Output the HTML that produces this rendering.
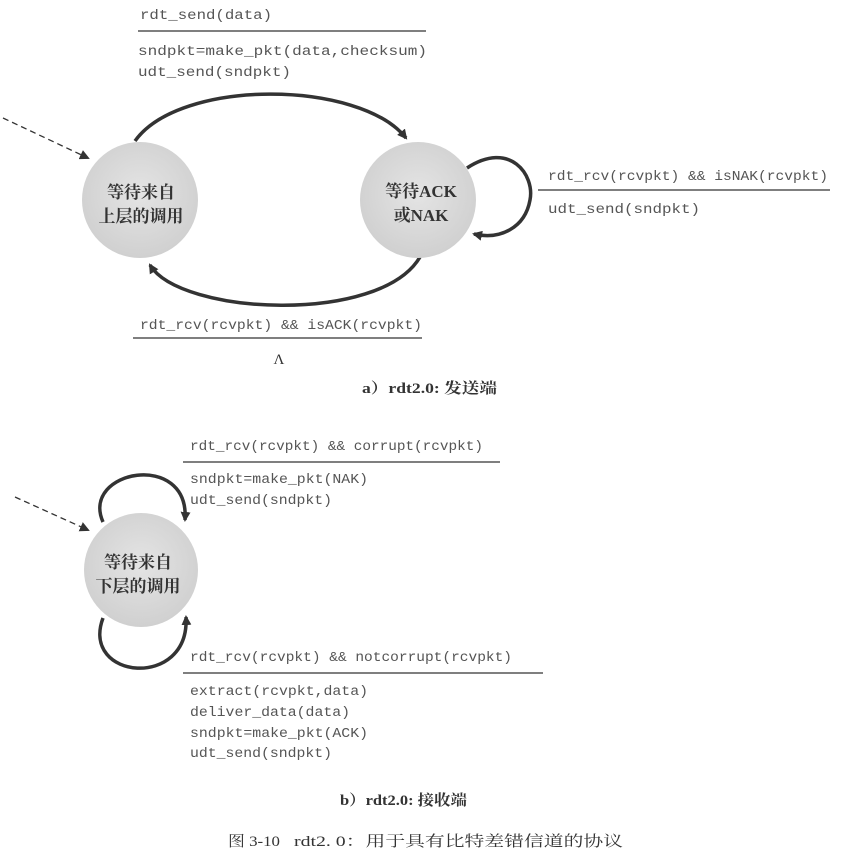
<!DOCTYPE html>
<html><head><meta charset="utf-8"><style>
html,body{margin:0;padding:0;background:#fff;}
svg{display:block;}
.m{font-family:"Liberation Mono",monospace;font-size:13.5px;fill:#555;}
.c{font-family:"Liberation Serif","Noto Serif CJK SC",serif;font-size:17px;font-weight:bold;fill:#333;}
.cap{font-family:"Liberation Serif","Noto Serif CJK SC",serif;font-size:15px;fill:#333;}
</style></head><body>
<svg width="854" height="860" viewBox="0 0 854 860" xmlns="http://www.w3.org/2000/svg">
<defs>
<marker id="a" markerWidth="10" markerHeight="10" refX="8" refY="5" orient="auto" markerUnits="userSpaceOnUse"><path d="M0,0 L10,5 L0,10 z" fill="#333"/></marker>
<radialGradient id="g" cx="50%" cy="45%" r="55%"><stop offset="0" stop-color="#e4e4e4"/><stop offset="1" stop-color="#d0d0d0"/></radialGradient>
</defs>
<g stroke="#333" fill="none">
<line x1="3" y1="118" x2="88" y2="158" stroke-width="1.3" stroke-dasharray="6,4" marker-end="url(#a)"/>
<path d="M135,141 C180,78 360,80 406,138" stroke-width="3.5" marker-end="url(#a)"/>
<path d="M420,257 C380,325 180,315 150,265" stroke-width="3.5" marker-end="url(#a)"/>
<path d="M467,168 C510,140 535,175 530,200 C525,228 500,240 474,234" stroke-width="3.5" marker-end="url(#a)"/>
<line x1="138" y1="31" x2="426" y2="31" stroke-width="1.2"/>
<line x1="538" y1="190" x2="830" y2="190" stroke-width="1.2"/>
<line x1="133" y1="338" x2="422" y2="338" stroke-width="1.2"/>
<line x1="15" y1="497" x2="88" y2="530" stroke-width="1.3" stroke-dasharray="6,4" marker-end="url(#a)"/>
<path d="M103,522 C80,470 190,450 185,520" stroke-width="3.5" marker-end="url(#a)"/>
<path d="M103,618 C80,680 190,690 186,617" stroke-width="3.5" marker-end="url(#a)"/>
<line x1="183" y1="462" x2="500" y2="462" stroke-width="1.2"/>
<line x1="183" y1="673" x2="543" y2="673" stroke-width="1.2"/>
</g>
<circle cx="140" cy="200" r="58" fill="url(#g)"/>
<circle cx="418" cy="200" r="58" fill="url(#g)"/>
<circle cx="141" cy="570" r="57" fill="url(#g)"/>
<text class="c" x="141" y="198" text-anchor="middle">等待来自</text>
<text class="c" x="141" y="222" text-anchor="middle">上层的调用</text>
<text class="c" x="421" y="197" text-anchor="middle">等待ACK</text>
<text class="c" x="421" y="221" text-anchor="middle">或NAK</text>
<text class="c" x="138" y="568" text-anchor="middle">等待来自</text>
<text class="c" x="138" y="592" text-anchor="middle">下层的调用</text>

<text class="m" x="140" y="19" textLength="132" lengthAdjust="spacingAndGlyphs">rdt_send(data)</text>
<text class="m" x="138" y="55" textLength="289" lengthAdjust="spacingAndGlyphs">sndpkt=make_pkt(data,checksum)</text>
<text class="m" x="138" y="76" textLength="153" lengthAdjust="spacingAndGlyphs">udt_send(sndpkt)</text>
<text class="m" x="548" y="180" textLength="280" lengthAdjust="spacingAndGlyphs">rdt_rcv(rcvpkt) &amp;&amp; isNAK(rcvpkt)</text>
<text class="m" x="548" y="213" textLength="152" lengthAdjust="spacingAndGlyphs">udt_send(sndpkt)</text>
<text class="m" x="140" y="329" textLength="282" lengthAdjust="spacingAndGlyphs">rdt_rcv(rcvpkt) &amp;&amp; isACK(rcvpkt)</text>
<text class="cap" x="279" y="364" text-anchor="middle">Λ</text>
<text class="cap" x="362" y="393" font-weight="bold" textLength="135" lengthAdjust="spacingAndGlyphs">a）rdt2.0: 发送端</text>

<text class="m" x="190" y="450" textLength="293" lengthAdjust="spacingAndGlyphs">rdt_rcv(rcvpkt) &amp;&amp; corrupt(rcvpkt)</text>
<text class="m" x="190" y="483" textLength="178" lengthAdjust="spacingAndGlyphs">sndpkt=make_pkt(NAK)</text>
<text class="m" x="190" y="504" textLength="142" lengthAdjust="spacingAndGlyphs">udt_send(sndpkt)</text>
<text class="m" x="190" y="661" textLength="322" lengthAdjust="spacingAndGlyphs">rdt_rcv(rcvpkt) &amp;&amp; notcorrupt(rcvpkt)</text>
<text class="m" x="190" y="695" textLength="178" lengthAdjust="spacingAndGlyphs">extract(rcvpkt,data)</text>
<text class="m" x="190" y="716" textLength="160" lengthAdjust="spacingAndGlyphs">deliver_data(data)</text>
<text class="m" x="190" y="737" textLength="178" lengthAdjust="spacingAndGlyphs">sndpkt=make_pkt(ACK)</text>
<text class="m" x="190" y="757" textLength="142" lengthAdjust="spacingAndGlyphs">udt_send(sndpkt)</text>
<text class="cap" x="340" y="805" font-weight="bold" textLength="127" lengthAdjust="spacingAndGlyphs">b）rdt2.0: 接收端</text>
<text class="cap" x="228" y="846" font-size="17" textLength="52" lengthAdjust="spacingAndGlyphs">图 3-10</text>
<text class="cap" x="294" y="846" font-size="17" textLength="329" lengthAdjust="spacingAndGlyphs">rdt2. 0：用于具有比特差错信道的协议</text>
</svg>
</body></html>
